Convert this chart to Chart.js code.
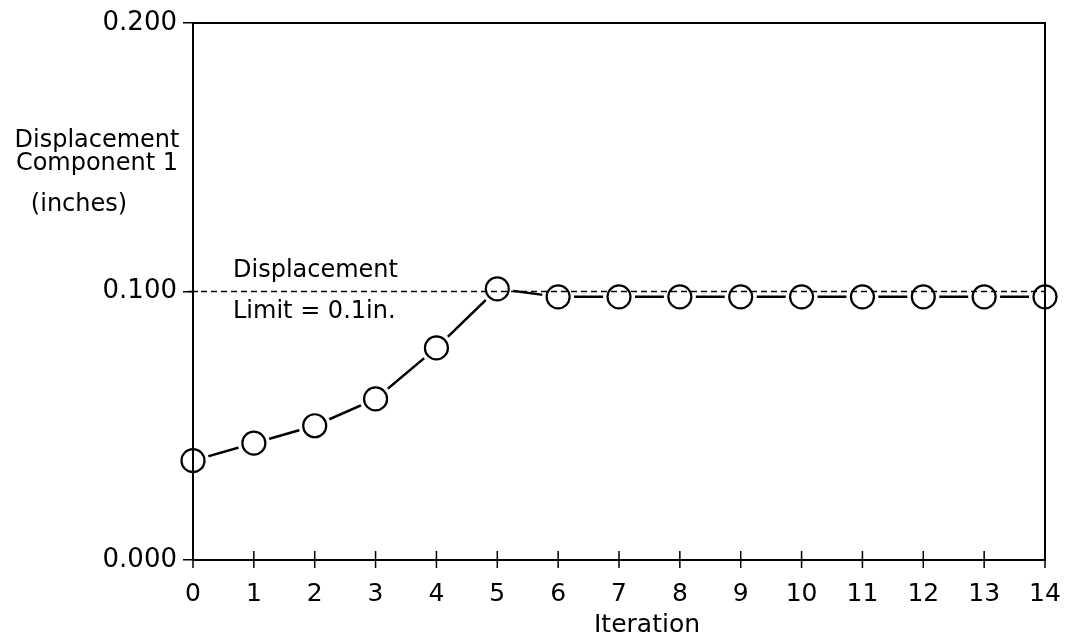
<!DOCTYPE html>
<html lang="en">
<head>
<meta charset="utf-8" />
<title>Displacement Component 1 vs Iteration</title>
<script src="https://cdn.jsdelivr.net/npm/chart.js@4/dist/chart.umd.min.js"></script>
<style>
  html, body { margin: 0; padding: 0; background: #fff; }
  #wrap { width: 1071px; height: 642px; }
</style>
</head>
<body>
<div id="wrap"><canvas id="chart"></canvas></div>
<script>
// data
var iterations = [0, 1, 2, 3, 4, 5, 6, 7, 8, 9, 10, 11, 12, 13, 14];
var displacement = [0.037, 0.0435, 0.050, 0.060, 0.079, 0.101, 0.098, 0.098, 0.098, 0.098, 0.098, 0.098, 0.098, 0.098, 0.098];
var limitValue = 0.1;
var yTicks = [0.000, 0.100, 0.200];
var yTitle = ['Displacement', 'Component 1', '(inches)'];
var limitText = ['Displacement', 'Limit = 0.1in.'];
var xTitle = 'Iteration';

var FONT = '"DejaVu Sans", sans-serif';

var points = iterations.map(function (x, i) { return { x: x, y: displacement[i] }; });

// frame, crossing ticks, dashed limit and texts drawn on top of the marks
var overlay = {
    id: 'overlay',
    afterDatasetsDraw: function (chart) {
        var ctx = chart.ctx, a = chart.chartArea;
        var xs = chart.scales.x, ys = chart.scales.y;
        ctx.save();

        // dashed limit line
        var yl = ys.getPixelForValue(limitValue);
        ctx.strokeStyle = '#000';
        ctx.lineWidth = 1.5;
        ctx.setLineDash([6, 4]);
        ctx.beginPath();
        ctx.moveTo(a.left + 8, yl);
        ctx.lineTo(a.right, yl);
        ctx.stroke();
        ctx.setLineDash([]);

        // frame
        ctx.lineWidth = 2;
        ctx.strokeRect(a.left, a.top, a.right - a.left, a.bottom - a.top);

        // x ticks crossing the axis
        ctx.lineWidth = 1.5;
        iterations.forEach(function (v) {
            var px = xs.getPixelForValue(v);
            ctx.beginPath();
            ctx.moveTo(px, a.bottom - 9);
            ctx.lineTo(px, a.bottom + 8);
            ctx.stroke();
        });
        // small cross at the limit on the y axis
        ctx.beginPath();
        ctx.moveTo(a.left + 5, yl);
        ctx.lineTo(a.left - 5, yl);
        ctx.stroke();

        ctx.fillStyle = '#000';
        ctx.font = '24px ' + FONT;
        ctx.textBaseline = 'alphabetic';

        // y axis title, written flat
        ctx.textAlign = 'center';
        ctx.fillText(yTitle[0], 97, 147);
        ctx.fillText(yTitle[1], 97, 170);
        ctx.fillText(yTitle[2], 79, 211);

        // limit annotation
        ctx.textAlign = 'left';
        ctx.fillText(limitText[0], 233, 277);
        ctx.fillText(limitText[1], 233, 318);

        // x axis title
        ctx.font = '25px ' + FONT;
        ctx.textAlign = 'center';
        ctx.fillText(xTitle, 647, 632);

        ctx.restore();
    }
};

new Chart(document.getElementById('chart'), {
    type: 'scatter',
    data: {
        datasets: [
            {   // connecting line
                data: points,
                showLine: true,
                borderColor: '#000',
                borderWidth: 2.5,
                pointRadius: 0,
                clip: false,
                order: 3
            },
            {   // white halo so the line stops short of each marker
                data: points,
                showLine: false,
                pointRadius: 16,
                pointBackgroundColor: '#fff',
                pointBorderWidth: 0,
                pointBorderColor: '#fff',
                clip: false,
                order: 2
            },
            {   // open circle markers
                data: points,
                showLine: false,
                pointRadius: 11.5,
                pointBackgroundColor: '#fff',
                pointBorderColor: '#000',
                pointBorderWidth: 2.2,
                clip: false,
                order: 1
            }
        ]
    },
    options: {
        responsive: true,
        maintainAspectRatio: false,
        animation: false,
        layout: { padding: { left: 0, top: 23, right: 26, bottom: 0 } },
        plugins: {
            legend: { display: false },
            tooltip: { enabled: false }
        },
        scales: {
            x: {
                type: 'linear',
                min: 0,
                max: 14,
                afterFit: function (s) { s.height = 82; },
                afterBuildTicks: function (s) { s.ticks = iterations.map(function (v) { return { value: v }; }); },
                grid: { display: false, drawTicks: false },
                border: { display: false },
                ticks: {
                    color: '#000',
                    padding: 9,
                    maxRotation: 0,
                    autoSkip: false,
                    font: { family: FONT, size: 25, lineHeight: 2 }
                }
            },
            y: {
                min: 0,
                max: 0.2,
                afterFit: function (s) { s.width = 193; },
                afterBuildTicks: function (s) { s.ticks = yTicks.map(function (v) { return { value: v }; }); },
                grid: { drawOnChartArea: false, drawTicks: true, tickLength: 10, color: '#000', lineWidth: 1.5 },
                border: { display: false },
                ticks: {
                    color: '#000',
                    padding: 6,
                    font: { family: FONT, size: 26 },
                    callback: function (v) { return Number(v).toFixed(3); }
                }
            }
        }
    },
    plugins: [overlay]
});
</script>
</body>
</html>
